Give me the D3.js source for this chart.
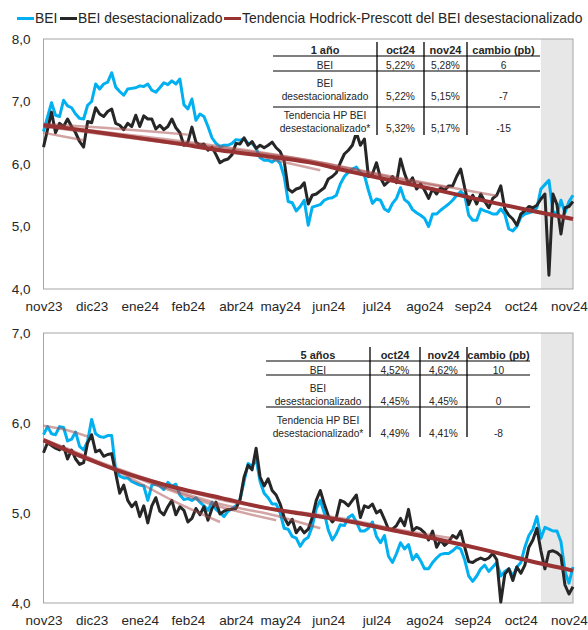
<!DOCTYPE html>
<html><head><meta charset="utf-8">
<script src="https://cdn.jsdelivr.net/npm/d3@7"></script>
<style>
body{margin:0;background:#fff}
svg{display:block}
text{font-family:"Liberation Sans",Arial,sans-serif;fill:#262626}
</style>
</head><body>
<svg id="chart" width="588" height="630"></svg>
<script>
// ---- Month labels on the daily index axis ----
const monthLabels = ["nov23","dic23","ene24","feb24","abr24","may24","jun24","jul24","ago24","sep24","oct24","nov24"];
const monthTickIdx = [0,12,24,36,48,59,71,83,95,107,119,131];
const shadeFromIdx = 124;   // start of the latest month (shaded)

// ---- 1 año ----
const bei1y = [6.52,6.75,6.98,6.78,6.76,7.02,6.93,6.9,6.8,6.73,6.72,6.94,7.0,7.28,7.2,7.28,7.31,7.46,7.23,7.16,
  7.1,7.2,7.21,7.22,7.25,7.24,7.28,7.18,7.15,7.22,7.3,7.27,7.33,7.28,7.36,6.95,6.88,7.04,6.7,6.8,
  6.76,6.6,6.42,6.33,6.28,6.3,6.3,6.33,6.39,6.38,6.4,6.33,6.33,6.25,6.1,6.06,6.06,6.03,6.08,6.01,
  5.8,5.4,5.38,5.25,5.32,5.42,5.02,5.31,5.33,5.35,5.42,5.45,5.46,5.5,5.68,5.8,5.87,5.92,5.95,5.86,
  5.82,5.58,5.37,5.44,5.42,5.28,5.24,5.37,5.45,5.62,5.43,5.38,5.27,5.22,5.18,5.13,5.0,5.2,5.2,5.26,
  5.31,5.36,5.42,5.5,5.56,5.5,5.18,5.1,5.1,5.28,5.25,5.23,5.2,5.2,5.28,5.2,4.96,4.93,5.0,5.15,
  5.2,5.22,5.24,5.3,5.6,5.67,5.74,5.24,5.2,5.42,5.22,5.4,5.5];
const beiSa1y = [6.27,6.55,6.83,6.5,6.65,6.6,6.72,6.6,6.5,6.36,6.27,6.68,6.66,6.9,6.8,6.76,6.84,6.88,6.65,6.62,
  6.55,6.65,6.6,6.78,6.6,6.77,6.72,6.72,6.56,6.62,6.55,6.6,6.72,6.58,6.5,6.3,6.35,6.59,6.35,6.3,
  6.32,6.22,6.27,6.15,6.02,6.06,6.08,6.15,6.33,6.32,6.42,6.3,6.36,6.25,6.3,6.26,6.3,6.35,6.26,6.2,
  6.05,5.6,5.55,5.6,5.62,5.7,5.36,5.5,5.52,5.57,5.62,5.76,5.8,5.86,6.02,6.16,6.22,6.3,6.5,6.3,
  6.4,5.8,5.84,6.02,5.78,5.66,5.72,5.8,5.7,6.08,5.85,5.68,5.78,5.6,5.68,5.58,5.45,5.6,5.52,5.62,
  5.58,5.65,5.65,5.8,5.92,5.62,5.35,5.5,5.36,5.52,5.4,5.3,5.45,5.5,5.65,5.28,5.18,5.12,5.02,5.2,
  5.25,5.32,5.3,5.34,5.44,5.52,4.22,5.52,5.35,4.88,5.3,5.32,5.4];
const hpIdx = [0,11,22,33,44,55,66,77,88,99,110,121,132];
const hp1y = [6.62,6.53,6.43,6.33,6.22,6.13,6.03,5.87,5.72,5.57,5.41,5.26,5.12];
// earlier HP trend estimates, as [index, value]
const hpPrev1y = [
  [[0,6.5],[5,6.44],[10,6.38]],
  [[0,6.64],[15,6.58],[27,6.52],[36,6.47]],
  [[0,6.6],[27,6.37],[52,6.15],[62,6.0],[69,5.9]],
  [[0,6.62],[39,6.3],[66,6.06],[90,5.74],[101,5.62]],
  [[0,6.62],[66,6.06],[90,5.76],[113,5.49]]
];
const table1yHead = ["1 año","oct24","nov24","cambio (pb)"];
const table1yRows = [
  [["BEI"],"5,22%","5,28%","6"],
  [["BEI","desestacionalizado"],"5,22%","5,15%","-7"],
  [["Tendencia HP BEI","desestacionalizado*"],"5,32%","5,17%","-15"]
];

// ---- 5 años ----
const bei5y = [5.87,5.96,5.88,5.87,5.96,5.95,5.8,5.82,5.9,5.74,5.7,5.8,6.04,5.88,5.85,5.84,5.86,5.86,5.48,5.41,
  5.39,5.39,5.35,5.33,5.31,5.3,5.14,5.31,5.32,5.3,5.26,5.34,5.3,5.32,5.2,5.15,5.16,5.14,5.17,5.12,
  5.08,5.03,5.12,5.04,5.0,4.96,5.02,5.05,5.08,5.15,5.35,5.55,5.52,5.6,5.35,5.22,5.17,5.1,5.1,5.0,
  4.83,4.82,4.74,4.72,4.63,4.7,4.73,4.85,5.05,5.14,5.0,4.81,4.7,4.77,4.87,4.86,4.95,4.98,4.9,4.8,
  4.8,4.83,4.9,4.74,4.67,4.75,4.52,4.45,4.55,4.67,4.6,4.65,4.48,4.54,4.47,4.38,4.38,4.45,4.5,4.54,
  4.55,4.55,4.58,4.62,4.6,4.48,4.3,4.24,4.3,4.38,4.42,4.35,4.4,4.45,4.3,4.35,4.38,4.3,4.4,4.45,
  4.62,4.75,4.82,4.96,4.72,4.84,4.82,4.8,4.8,4.68,4.35,4.22,4.4];
const beiSa5y = [5.67,5.78,5.75,5.72,5.7,5.74,5.6,5.7,5.6,5.54,5.56,5.78,5.87,5.68,5.7,5.63,5.65,5.66,5.44,5.22,
  5.31,5.14,5.07,5.12,4.96,5.08,4.89,5.08,5.17,5.02,4.98,5.07,5.14,4.98,5.07,5.03,4.9,4.94,5.05,4.98,
  5.07,4.92,5.05,5.12,4.99,5.02,5.04,5.04,5.05,5.15,5.4,5.53,5.48,5.72,5.4,5.3,5.38,5.25,5.2,5.1,
  4.95,4.87,4.93,4.78,4.84,4.78,4.82,4.95,5.14,5.25,5.1,4.97,4.9,4.95,5.14,5.12,5.08,5.14,5.2,4.95,
  5.08,5.06,5.1,5.0,5.03,4.93,4.82,4.82,4.86,4.94,4.86,5.04,4.8,4.84,4.82,4.78,4.7,4.8,4.62,4.7,
  4.64,4.68,4.75,4.72,4.8,4.62,4.46,4.45,4.48,4.5,4.48,4.5,4.55,4.48,4.01,4.32,4.38,4.25,4.4,4.33,
  4.42,4.62,4.7,4.83,4.58,4.38,4.57,4.58,4.56,4.52,4.2,4.1,4.18];
const hp5y = [5.81,5.6,5.42,5.28,5.17,5.06,4.98,4.9,4.8,4.7,4.59,4.47,4.36];
const hpPrev5y = [
  [[0,5.97],[5,5.93],[11,5.85]],
  [[0,5.82],[11,5.62],[22,5.38],[33,5.12],[44,4.9]],
  [[0,5.8],[22,5.41],[44,5.07],[58,4.92]],
  [[0,5.8],[22,5.42],[44,5.1],[58,4.97],[69,4.83]],
  [[0,5.8],[44,5.15],[77,4.92],[88,4.82],[102,4.72]]
];
const table5yHead = ["5 años","oct24","nov24","cambio (pb)"];
const table5yRows = [
  [["BEI"],"4,52%","4,62%","10"],
  [["BEI","desestacionalizado"],"4,45%","4,45%","0"],
  [["Tendencia HP BEI","desestacionalizado*"],"4,49%","4,41%","-8"]
];

const legendItems = [
  {label:"BEI", color:"#00B0F0", x:17},
  {label:"BEI desestacionalizado", color:"#262626", x:60},
  {label:"Tendencia Hodrick-Prescott del BEI desestacionalizado", color:"#993333", x:224}
];

const svg = d3.select("#chart");
const X0 = 43.5, X1 = 573;
const fmt = v => d3.format(".1f")(v).replace(".", ",");

// legend
const lg = svg.append("g");
legendItems.forEach(it => {
  lg.append("line").attr("x1", it.x).attr("x2", it.x + 17).attr("y1", 18.5).attr("y2", 18.5)
    .attr("stroke", it.color).attr("stroke-width", 3);
  lg.append("text").attr("x", it.x + 18).attr("y", 18.5).attr("dy", "0.35em")
    .style("font-size", "13.9px").text(it.label);
});

function drawPanel(p) {
  const g = svg.append("g");
  const x = d3.scaleLinear().domain([0, p.a.length - 1]).range([X0, X1]);
  const y = d3.scaleLinear().domain(p.yDomain).range([p.bottom, p.top]);

  // shaded latest month
  g.append("rect").attr("x", x(shadeFromIdx)).attr("y", p.top)
    .attr("width", X1 - x(shadeFromIdx)).attr("height", p.bottom - p.top).attr("fill", "#e7e7e7");

  // frame
  g.append("rect").attr("x", X0).attr("y", p.top).attr("width", X1 - X0).attr("height", p.bottom - p.top)
    .attr("fill", "none").attr("stroke", "#a6a6a6").attr("stroke-width", 1);

  const line = d3.line().x((d, i) => x(i)).y(d => y(d));
  g.append("path").datum(p.a).attr("d", line).attr("fill", "none")
    .attr("stroke", "#00B0F0").attr("stroke-width", 3).attr("stroke-linejoin", "round");
  g.append("path").datum(p.b).attr("d", line).attr("fill", "none")
    .attr("stroke", "#262626").attr("stroke-width", 3).attr("stroke-linejoin", "round");

  const smooth = d3.line().x(d => x(d[0])).y(d => y(d[1])).curve(d3.curveMonotoneX);
  p.prev.forEach(v => {
    g.append("path").datum(v).attr("d", smooth).attr("fill", "none")
      .attr("stroke", "#a84a4a").attr("stroke-opacity", 0.5).attr("stroke-width", 2.5);
  });
  g.append("path").datum(hpIdx.map((k, i) => [k, p.hp[i]])).attr("d", smooth).attr("fill", "none")
    .attr("stroke", "#993333").attr("stroke-width", 4);

  // axes
  const ya = d3.axisLeft(y).tickValues(p.yTicks).tickSize(0).tickPadding(13).tickFormat(fmt);
  g.append("g").attr("transform", `translate(${X0},0)`).call(ya)
    .call(s => s.select(".domain").remove())
    .selectAll("text").style("font-size", "13.5px").style("font-family", '"Liberation Sans",Arial,sans-serif').attr("fill", "#262626");
  const xa = d3.axisBottom(x).tickValues(monthTickIdx).tickSize(0).tickPadding(12)
    .tickFormat((d, i) => monthLabels[i]);
  g.append("g").attr("transform", `translate(0,${p.bottom})`).call(xa)
    .call(s => s.select(".domain").remove())
    .selectAll("text").style("font-size", "13.5px").style("font-family", '"Liberation Sans",Arial,sans-serif').attr("fill", "#262626");

  drawTable(g, p.table);
}

function drawTable(g, t) {
  const c = t.cols, y0 = t.y0;
  const tg = g.append("g");
  tg.append("rect").attr("x", c[0]).attr("y", y0 - 1).attr("width", c[4] - c[0]).attr("height", t.h + 1).attr("fill", "#fff");
  const centers = [0,1,2,3].map(i => (c[i] + c[i + 1]) / 2);
  t.head.forEach((h, i) => tg.append("text").attr("x", centers[i]).attr("y", y0 + 8).attr("dy", "0.35em")
    .attr("text-anchor", "middle").style("font-size", "11px").style("font-weight", "bold").text(h));
  const rowLines = [[23], [41, 54], [73, 86]];
  t.rows.forEach((r, ri) => {
    const ys = rowLines[ri];
    r[0].forEach((s, k) => {
      const yy = r[0].length === 1 ? ys[0] : ys[k];
      tg.append("text").attr("x", centers[0]).attr("y", y0 + yy).attr("dy", "0.35em")
        .attr("text-anchor", "middle").style("font-size", "10.2px").text(s);
    });
    const yv = ys[ys.length - 1];
    [1,2,3].forEach(ci => tg.append("text").attr("x", centers[ci]).attr("y", y0 + yv).attr("dy", "0.35em")
      .attr("text-anchor", "middle").style("font-size", "10.2px").text(r[ci]));
  });
  [14, t.l2, t.l3].forEach(ly => tg.append("line").attr("x1", c[0]).attr("x2", c[4])
    .attr("y1", y0 + ly).attr("y2", y0 + ly).attr("stroke", "#000").attr("stroke-width", 1.2));
  [1,2,3].forEach(ci => tg.append("line").attr("x1", c[ci]).attr("x2", c[ci])
    .attr("y1", y0).attr("y2", y0 + t.h).attr("stroke", "#000").attr("stroke-width", 1.3));
}

drawPanel({
  a: bei1y, b: beiSa1y, hp: hp1y, prev: hpPrev1y,
  top: 39, bottom: 289, yDomain: [4, 8], yTicks: [4,5,6,7,8],
  table: {cols: [273,377,424,467,540], y0: 42, h: 93, l2: 29, l3: 65, head: table1yHead, rows: table1yRows}
});
drawPanel({
  a: bei5y, b: beiSa5y, hp: hp5y, prev: hpPrev5y,
  top: 333, bottom: 603, yDomain: [4, 7], yTicks: [4,5,6,7],
  table: {cols: [266,370,420,467,530], y0: 347, h: 90, l2: 28, l3: 60, head: table5yHead, rows: table5yRows}
});
</script>
</body></html>
